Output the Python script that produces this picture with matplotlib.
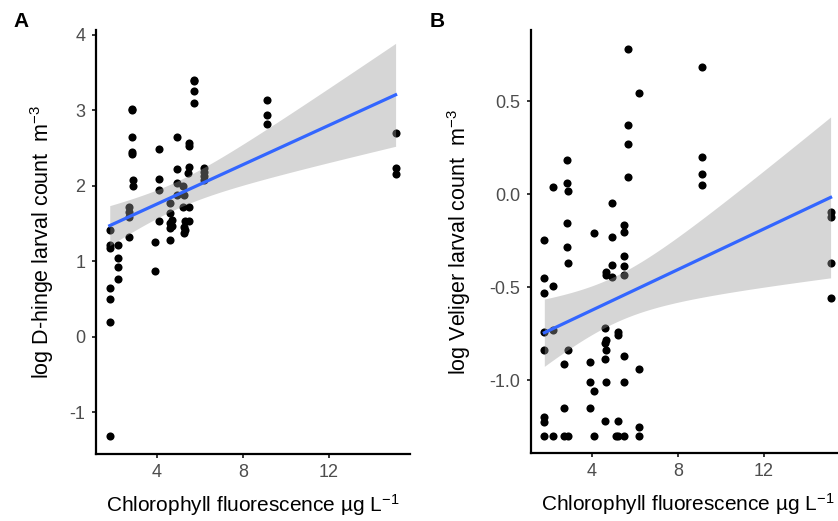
import numpy as np
import matplotlib
matplotlib.use('Agg')
import matplotlib.pyplot as plt

plt.rcParams['font.family'] = ['Liberation Sans', 'DejaVu Sans']
plt.rcParams['mathtext.fontset'] = 'custom'
plt.rcParams['mathtext.rm'] = 'Liberation Sans'
plt.rcParams['mathtext.it'] = 'Liberation Sans:italic'

# Panel A: D-hinge larvae
chl_a = [1.8, 1.8, 1.8, 1.8, 1.8, 1.8, 1.8,
         2.2, 2.2, 2.2, 2.2,
         2.7, 2.7, 2.7, 2.7,
         2.85, 2.85, 2.85, 2.85, 2.85, 2.9, 2.9,
         3.9, 3.9,
         4.1, 4.1, 4.1, 4.1,
         4.6, 4.6, 4.6, 4.6, 4.6, 4.7, 4.7,
         4.92, 4.92, 4.92, 4.92,
         5.2, 5.25, 5.2, 5.3, 5.25, 5.3, 5.25,
         5.49, 5.49, 5.49, 5.45, 5.49, 5.49,
         5.71, 5.71, 5.71, 5.71,
         6.2, 6.2, 6.2, 6.2,
         9.1, 9.1, 9.1,
         15.1, 15.1, 15.1]
dhinge = [1.42, 1.22, 1.18, 0.65, 0.50, 0.19, -1.31,
          1.22, 1.04, 0.93, 0.77,
          1.72, 1.65, 1.59, 1.32,
          3.02, 3.00, 2.64, 2.45, 2.42, 2.08, 1.99,
          1.26, 0.87,
          2.49, 2.09, 1.94, 1.53,
          1.77, 1.64, 1.50, 1.44, 1.28, 1.55, 1.47,
          2.64, 2.22, 2.03, 1.88,
          1.99, 1.88, 1.72, 1.53, 1.46, 1.41, 1.37,
          2.56, 2.52, 2.25, 2.17, 1.72, 1.53,
          3.40, 3.38, 3.25, 3.09,
          2.23, 2.18, 2.13, 2.08,
          3.13, 2.93, 2.81,
          2.70, 2.24, 2.16]

# Panel B: veliger larvae
chl_b = [1.78, 1.78, 1.78, 1.78, 1.78, 1.78, 1.78, 1.78,
         2.2, 2.2, 2.2, 2.2,
         2.71, 2.71, 2.71,
         2.85, 2.85, 2.9, 2.85, 2.85, 2.9, 2.9, 2.9,
         3.91, 3.91, 3.91,
         4.11, 4.11, 4.11,
         4.65, 4.65, 4.6, 4.65, 4.6, 4.65, 4.6, 4.65, 4.6,
         4.92, 4.92, 4.92, 4.92,
         5.2, 5.2, 5.2, 5.1, 5.2,
         5.5, 5.5, 5.5, 5.5, 5.5, 5.5, 5.5, 5.5,
         5.69, 5.69, 5.69, 5.69,
         6.2, 6.2, 6.2, 6.2,
         9.1, 9.1, 9.1, 9.1,
         15.1, 15.1, 15.1, 15.1]
veliger = [-0.247, -0.453, -0.534, -0.74, -0.839, -1.197, -1.224, -1.30,
           0.04, -0.495, -0.73, -1.30,
           -0.916, -1.149, -1.30,
           0.183, 0.061, 0.016, -0.158, -0.283, -0.369, -0.839, -1.30,
           -0.905, -1.012, -1.149,
           -0.208, -1.057, -1.30,
           -0.418, -0.435, -0.719, -0.785, -0.80, -0.839, -0.889, -1.012, -1.219,
           -0.05, -0.233, -0.382, -0.444,
           -0.74, -0.758, -1.219, -1.30, -1.30,
           -0.167, -0.203, -0.333, -0.387, -0.435, -0.869, -1.012, -1.30,
           0.78, 0.371, 0.267, 0.09,
           0.545, -0.941, -1.25, -1.30,
           0.681, 0.197, 0.108, 0.05,
           -0.095, -0.125, -0.369, -0.557]

xlabel = 'Chlorophyll fluorescence µg L$^{-1}$'


def lm_band(x, y, t=1.995):
    # linear fit with 95% confidence band, like geom_smooth(method='lm')
    x = np.asarray(x)
    y = np.asarray(y)
    n = len(x)
    b, a = np.polyfit(x, y, 1)
    resid = y - (a + b * x)
    s = np.sqrt(np.sum(resid ** 2) / (n - 2))
    sxx = np.sum((x - x.mean()) ** 2)
    xs = np.linspace(x.min(), x.max(), 100)
    ys = a + b * xs
    se = s * np.sqrt(1 / n + (xs - x.mean()) ** 2 / sxx)
    return xs, ys, ys - t * se, ys + t * se


def panel(ax, x, y, ylabel, ylim, yticks, yticklabels, ylab_x):
    ax.scatter(x, y, s=34, color='black', linewidths=0, zorder=2)
    xs, ys, lo, hi = lm_band(x, y)
    ax.fill_between(xs, lo, hi, color='#999999', alpha=0.4, linewidth=0, zorder=3)
    ax.plot(xs, ys, color='#3366FF', linewidth=2.3, zorder=4)
    ax.set_xlim(1.16, 15.77)
    ax.set_ylim(*ylim)
    ax.set_xticks([4, 8, 12])
    ax.set_yticks(yticks)
    ax.set_yticklabels(yticklabels)
    for side in ['top', 'right']:
        ax.spines[side].set_visible(False)
    for side in ['left', 'bottom']:
        ax.spines[side].set_linewidth(1.6)
    ax.tick_params(length=3, width=1.1, labelsize=13, labelcolor='#4D4D4D')
    ax.tick_params(axis='x', pad=4)
    ax.tick_params(axis='y', pad=4.5)
    ax.set_xlabel(xlabel, fontsize=15, labelpad=8)
    ax.set_ylabel(ylabel, fontsize=15.5)
    ax.yaxis.set_label_coords(ylab_x, 0.5)


fig = plt.figure(figsize=(8.38, 5.21), dpi=100)
W, H = 838, 521

ax1 = fig.add_axes([96 / W, 1 - 454 / H, 314 / W, 424 / H])
panel(ax1, chl_a, dhinge, 'log D-hinge larval count  m$^{-3}$',
      (-1.55, 4.06), [-1, 0, 1, 2, 3, 4], ['-1', '0', '1', '2', '3', '4'],
      (56 - 96) / 314)

ax2 = fig.add_axes([531 / W, 1 - 453 / H, 314 / W, 423 / H])
panel(ax2, chl_b, veliger, 'log Veliger larval count  m$^{-3}$',
      (-1.392, 0.882), [-1.0, -0.5, 0.0, 0.5], ['-1.0', '-0.5', '0.0', '0.5'],
      (473 - 531) / 314)

fig.text(13 / W, 1 - 27 / H, 'A', fontsize=15, fontweight='bold')
fig.text(430 / W, 1 - 27 / H, 'B', fontsize=15, fontweight='bold')

fig.savefig('out.png', dpi=100)
